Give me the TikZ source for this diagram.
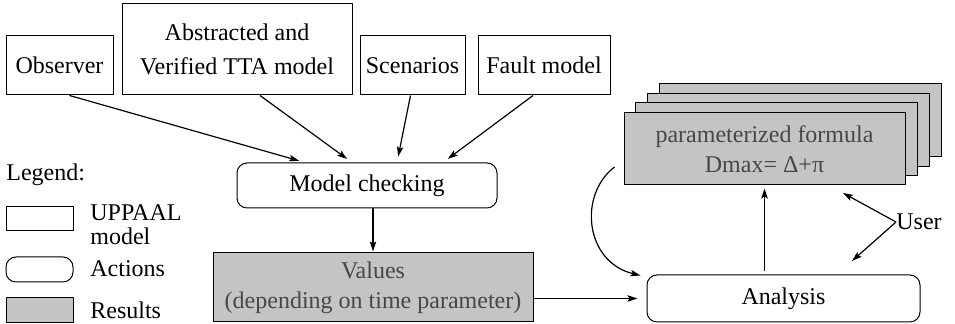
\documentclass[tikz,border=0pt]{standalone}
\usepackage{fontspec}
\setmainfont{Liberation Serif}
\usetikzlibrary{arrows.meta,backgrounds,calc,positioning}

\begin{document}
\begin{tikzpicture}[x=0.5pt,y=-0.5pt,
  font=\fontsize{12}{15}\selectfont,
  model/.style={draw,line width=0.5pt,inner sep=0pt,align=center},
  action/.style={model,rounded corners=5pt},
  result/.style={model,fill=black!23,text=black!72},
  legtext/.style={anchor=west,inner sep=0pt,align=left},
  pfeil/.style={-{Stealth[length=5pt,width=3.2pt,inset=1pt]},line width=0.6pt}]
\useasboundingbox (0,0) rectangle (955,324);
%Eingaenge oben
\node[model,minimum width=53.5pt,minimum height=29.5pt] (obs) at (59.5,65.5) {Observer};
\node[model,minimum width=115pt,minimum height=45.5pt] (abs) at (237,49.5) {Abstracted and\\[2pt]Verified TTA model};
\node[model,minimum width=52.5pt,minimum height=29.5pt] (scen) at (412.5,65.5) {Scenarios};
\node[model,minimum width=66pt,minimum height=29.5pt] (fault) at (544,65.5) {Fault model};
%Aktionen und Ergebnisse
\node[action,minimum width=130pt,minimum height=22.5pt] (mc) at (367,185.5) {Model checking};
\node[result,minimum width=160pt,minimum height=34.5pt] (val) at (373,287.5) {Values\\(depending on time parameter)};
\node[action,minimum width=136.5pt,minimum height=23.5pt] (ana) at (783.5,298.5) {Analysis};
\node[result,minimum width=140.5pt,minimum height=36pt] (front) at (764.5,149) {parameterized formula\\Dmax= Δ+π};
\begin{scope}[on background layer]
\foreach \k in {3,2,1}{
\draw[line width=0.5pt,fill=black!23] ([shift={(12*\k,-9.5*\k)}]front.south west) rectangle ([shift={(12*\k,-9.5*\k)}]front.north east);
}
\end{scope}
%Legende
\node[legtext] (leg) at (6,175) {Legend:};
\node[model,minimum width=33.5pt,minimum height=12pt] (lmodel) at (39.5,219) {};
\node[action,minimum width=33.5pt,minimum height=12.5pt] (laction) at (39.5,269.5) {};
\node[result,minimum width=33.5pt,minimum height=12.5pt] (lresult) at (39.5,310.5) {};
\node[legtext] (lmodeltxt) at (90,225) {UPPAAL\\[-3pt]model};
\node[legtext] (lactiontxt) at (90,269) {Actions};
\node[legtext] (lresulttxt) at (90,310) {Results};
%Pfeile
\draw[pfeil,shorten >=3pt] ([xshift=5pt]obs.south) -- ([xshift=-31pt]mc.north);
\draw[pfeil,shorten >=3pt] ([xshift=11.5pt]abs.south) -- ([xshift=-7.5pt]mc.north);
\draw[pfeil,shorten >=3pt] ([xshift=-1pt]scen.south) -- ([xshift=15pt]mc.north);
\draw[pfeil,shorten >=3pt] ([xshift=-5.5pt]fault.south) -- ([xshift=38pt]mc.north);
\draw[pfeil,shorten >=0.5pt] (val.north |- mc.south) -- (val.north);
\draw[pfeil,shorten >=4.5pt] (val.east |- ana.west) -- (ana.west);
\draw[pfeil,shorten <=1.5pt,shorten >=1.5pt] (front.south |- ana.north) -- (front.south);
\draw[pfeil] ([shift={(-4.5pt,-9pt)}]front.west) .. controls (578,195) and (585,262) .. ([shift={(-3pt,-0.5pt)}]ana.north west);
%Benutzer
\node[legtext] (user) at (896,222) {User};
\coordinate (u1) at (843,193);
\coordinate (u2) at (852,261);
\draw[pfeil] (user.west) -- (u1);
\draw[pfeil] (user.west) -- (u2);
\end{tikzpicture}
\end{document}
